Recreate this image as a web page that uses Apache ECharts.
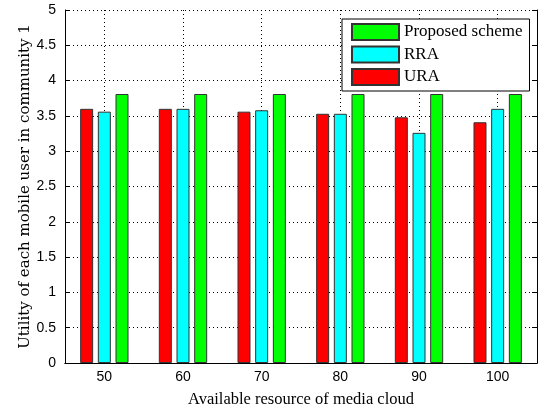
<!DOCTYPE html>
<html><head><meta charset="utf-8">
<script src="https://cdn.jsdelivr.net/npm/echarts@6/dist/echarts.min.js"></script>
<style>html,body{margin:0;padding:0;background:#fff}#c{width:543px;height:409px}</style>
</head><body><div id="c"></div>
<script>
const categories = ['50', '60', '70', '80', '90', '100'];
const uraValues = [3.60, 3.60, 3.56, 3.53, 3.48, 3.41];
const rraValues = [3.56, 3.60, 3.58, 3.53, 3.26, 3.60];
const proposedValues = [3.81, 3.81, 3.81, 3.81, 3.81, 3.81];
const yMin = 0, yMax = 5, yStep = 0.5;

const serif = 'Liberation Serif';
const sans = 'Liberation Sans';
const chart = echarts.init(document.getElementById('c'), null, {renderer: 'canvas'});
const dotted = {type: [1, 3], color: '#000', width: 1};
const barBorder = {borderColor: '#333', borderWidth: 1};
chart.setOption({
  animation: false,
  backgroundColor: '#fff',
  grid: {left: 65, right: 6, top: 10, bottom: 46, outerBoundsMode: 'none', containLabel: false},
  legend: {
    data: ['Proposed scheme', 'RRA', 'URA'],
    orient: 'vertical', left: 342, top: 19,
    backgroundColor: '#fff', borderColor: '#000', borderWidth: 1,
    padding: [4, 7, 5, 9], itemGap: 4.5, itemWidth: 47, itemHeight: 16,
    icon: 'rect', z: 10,
    textStyle: {fontFamily: serif, fontSize: 17, color: '#000'}
  },
  xAxis: [{
    type: 'category', data: categories,
    name: 'Available resource of media cloud', nameLocation: 'middle', nameGap: 28,
    nameMoveOverlap: false,
    nameTextStyle: {fontFamily: serif, fontSize: 16.5, color: '#000'},
    axisLine: {lineStyle: {color: '#000'}},
    axisTick: {inside: true, alignWithLabel: true, length: 5, lineStyle: {color: '#000'}},
    axisLabel: {fontFamily: sans, fontSize: 14, color: '#000', margin: 7},
    splitLine: {show: false}
  }, {
    type: 'category', data: categories, position: 'top',
    axisLine: {lineStyle: {color: '#000'}},
    axisTick: {inside: true, alignWithLabel: true, length: 5, lineStyle: {color: '#000'}},
    axisLabel: {show: false}, splitLine: {show: false}
  }],
  yAxis: [{
    type: 'value', min: yMin, max: yMax, interval: yStep,
    name: 'Utility of each mobile user in community 1', nameLocation: 'middle', nameGap: 32,
    nameMoveOverlap: false,
    nameTextStyle: {fontFamily: 'DejaVu Serif', fontSize: 15, color: '#000'},
    axisLine: {show: true, lineStyle: {color: '#000'}},
    axisTick: {show: true, inside: true, length: 5, lineStyle: {color: '#000'}},
    axisLabel: {fontFamily: sans, fontSize: 14, color: '#000', margin: 9},
    splitLine: {show: true, lineStyle: dotted}
  }, {
    type: 'value', min: yMin, max: yMax, interval: yStep, position: 'right',
    axisLine: {show: true, lineStyle: {color: '#000'}},
    axisTick: {show: true, inside: true, length: 5, lineStyle: {color: '#000'}},
    axisLabel: {show: false}, splitLine: {show: false}
  }],
  series: [
    {name: 'vgrid', type: 'line', data: categories.map(() => '-'), z: 1, silent: true,
     markLine: {silent: true, z: 1, symbol: ['none', 'none'], label: {show: false},
       lineStyle: dotted, data: categories.map(c => ({xAxis: c}))}},
    {name: 'URA', type: 'bar', data: uraValues, barWidth: 13, barGap: '36%', z: 3,
     itemStyle: Object.assign({color: '#ff0000'}, barBorder)},
    {name: 'RRA', type: 'bar', data: rraValues, barWidth: 13, barGap: '36%', z: 3,
     itemStyle: Object.assign({color: '#00ffff'}, barBorder)},
    {name: 'Proposed scheme', type: 'bar', data: proposedValues, barWidth: 13, barGap: '36%', z: 3,
     itemStyle: Object.assign({color: '#00ff00'}, barBorder)}
  ]
});
</script></body></html>
